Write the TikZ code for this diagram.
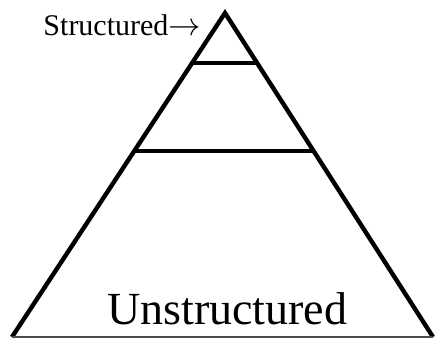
\documentclass[tikz,border=0pt]{standalone}
\usepackage{fontspec}
\setmainfont{Liberation Serif}
\usetikzlibrary{calc}
\tikzset{
  side/.style={line width=4.4pt,line join=miter,black},
  layer/.style={line width=4pt,black},
  baseline/.style={line width=1.8pt,black!70},
  lbl/.style={inner sep=0pt,font=\fontsize{30}{31}\selectfont},
  biglbl/.style={inner sep=0pt,font=\fontsize{46}{48}\selectfont}
}

\begin{document}
\begin{tikzpicture}[x=1pt,y=-1pt]
  \useasboundingbox (0,0) rectangle (437,339);
  % corners of the pyramid
  \coordinate (top) at (225,13);
  \coordinate (bl) at (12,337);
  \coordinate (br) at (433,337);
  \draw[side] (bl) -- (top) -- (br);
  \draw[baseline] (bl) -- (br);
  % layer boundaries
  \foreach \f in {0.154,0.426}
    \draw[layer] ($(top)!\f!(bl)$) -- ($(top)!\f!(br)$);
  % labels
  \node[lbl,anchor=base east] (structured) at (201,36) {Structured\scalebox{1.3}{$\rightarrow$}};
  \node[biglbl,anchor=base west] (unstructured) at (107,325) {Unstructured};
\end{tikzpicture}
\end{document}
